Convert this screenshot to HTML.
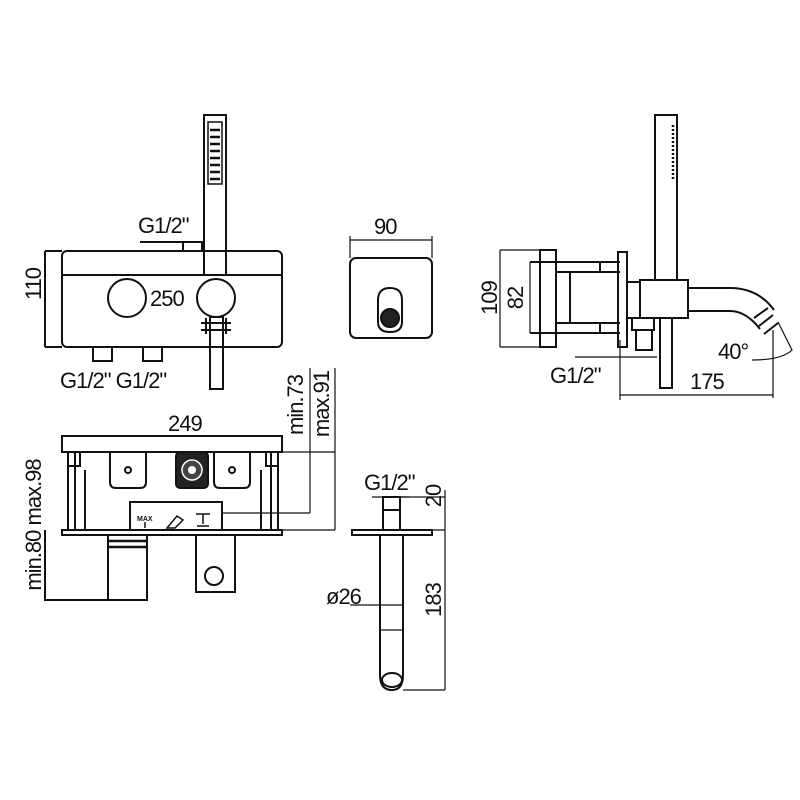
<!DOCTYPE html>
<html><head><meta charset="utf-8"><style>
html,body{margin:0;padding:0;background:#fff}
svg{display:block}
text{font-family:"Liberation Sans",sans-serif;fill:#111;letter-spacing:-1px}
</style></head><body>
<svg width="800" height="800" viewBox="0 0 800 800" xmlns="http://www.w3.org/2000/svg">
<g fill="none" stroke="#111" stroke-width="2">
<rect x="204" y="115" width="22" height="160"/>
<rect x="208" y="122" width="14" height="62" stroke-width="1.5"/>
<g stroke-width="2.5"><path d="M210 130h10M210 137h10M210 144h10M210 151h10M210 158h10M210 165h10M210 172h10M210 179h10"/></g>
<path d="M45 251v96M45 251h17M45 347h17"/>
<rect x="62" y="251" width="220" height="96" rx="5"/>
<path d="M62 275h142M226 275h56"/>
<circle cx="127" cy="298" r="19"/>
<circle cx="216" cy="298" r="19"/>
<path d="M140 242h62"/><rect x="183" y="242" width="19" height="9"/>
<rect x="93" y="347" width="19" height="14"/><rect x="143" y="347" width="19" height="14"/>
<rect x="210" y="317" width="13" height="72"/>
<path d="M201 323h30M201 330h30M206 318v16M226 318v16"/>
<rect x="62" y="436" width="220" height="16"/>
<path d="M68 452v78M278 452v78M75 452v78M271 452v78M85 470v60M261 470v60"/>
<rect x="68" y="452" width="12" height="14"/><rect x="266" y="452" width="12" height="14"/>
<path d="M110 452v30q0 6 6 6h24q6 0 6-6v-30"/>
<path d="M214 452v30q0 6 6 6h24q6 0 6-6v-30"/>
<circle cx="128" cy="470" r="3"/><circle cx="232" cy="470" r="3"/>
<rect x="176" y="452" width="32" height="36" rx="4" fill="#222"/>
<circle cx="192" cy="470" r="10" fill="#444" stroke="#fff" stroke-width="1.5"/>
<circle cx="192" cy="470" r="4" fill="#fff" stroke="none"/>
<rect x="130" y="502" width="92" height="28"/>
<rect x="62" y="530" width="220" height="5"/>
<path d="M45 530v70h63"/>
<rect x="108" y="535" width="39" height="65"/>
<path d="M108 541h39M108 547h39" stroke-width="2.5"/>
<path d="M196 535v57h39v-57"/>
<circle cx="214" cy="576" r="9"/>
<path d="M222 513h88M310 368v145M282 452h53M335 368v162M282 530h53" stroke-width="1.2"/>
<path d="M350 240h82M350 236v22M432 236v22" stroke-width="1.2"/>
<rect x="350" y="258" width="82" height="80" rx="6"/>
<path d="M378 300q0-12 12-12q12 0 12 12v22q0 10-12 10q-12 0-12-10z"/>
<circle cx="390" cy="318" r="9" fill="#222"/>
<path d="M372 497h38" stroke-width="1.2"/>
<rect x="383" y="497" width="17" height="33"/>
<path d="M383 510h17"/>
<rect x="352" y="530" width="80" height="5"/>
<path d="M380 535v140q0 15 12 15q11 0 11-15v-140"/>
<ellipse cx="392" cy="680" rx="10" ry="7"/>
<path d="M380 630h23M350 605h53M400 497h45M432 530h13M445 490v200M403 690h42" stroke-width="1.2"/>
<rect x="655" y="115" width="22" height="165"/>
<g stroke-width="2.5" stroke-dasharray="2 2"><path d="M673 125v55"/></g>
<path d="M500 250v97M500 250h40M500 347h40M530 262v71" stroke-width="1.2"/>
<rect x="540" y="250" width="16" height="97"/>
<path d="M530 262h26M530 333h26"/>
<path d="M556 262h64M556 272h64M556 323h64M556 333h64M570 272v51M600 262v10M600 323v10"/>
<rect x="618" y="252" width="9" height="95"/>
<rect x="627" y="282" width="13" height="36"/>
<rect x="640" y="280" width="48" height="38"/>
<path d="M688 288h42q28 0 44 22M688 311h42q16 0 30 18"/>
<path d="M754 318l14-10M759 326l14-11M764 334l14-11"/>
<rect x="632" y="318" width="22" height="12"/>
<path d="M636 330v20h16v-20"/>
<rect x="660" y="318" width="12" height="70"/>
<path d="M575 357h82M620 340v60M620 395h153M773 330v68" stroke-width="1.2"/>
<path d="M752 360q30 0 40-10l-14-28" stroke-width="1.2"/>
</g>
<g font-size="22">
<text x="138" y="233">G1/2"</text>
<text x="150" y="306">250</text>
<text x="60" y="388">G1/2" G1/2"</text>
<text x="168" y="431">249</text>
<text x="374" y="234">90</text>
<text x="364" y="490">G1/2"</text>
<text x="326" y="604">ø26</text>
<text x="550" y="383">G1/2"</text>
<text x="718" y="359">40°</text>
<text x="690" y="389">175</text>
<g text-anchor="middle">
<text transform="translate(41 284) rotate(-90)">110</text>
<text transform="translate(41 525) rotate(-90)">min.80 max.98</text>
<text transform="translate(303 405) rotate(-90)">min.73</text>
<text transform="translate(329 404) rotate(-90)">max.91</text>
<text transform="translate(441 496) rotate(-90)">20</text>
<text transform="translate(441 600) rotate(-90)">183</text>
<text transform="translate(497 298) rotate(-90)">109</text>
<text transform="translate(523 298) rotate(-90)">82</text>
</g>
</g>
<g font-size="7" font-weight="bold"><text x="137" y="521" style="letter-spacing:0">MAX</text></g>
<path d="M145 522v6M167 528l10-12l6 4l-8 8zM196 514h14M203 514v10M197 526h12" stroke="#111" stroke-width="1.5" fill="none"/>
</svg>
</body></html>
